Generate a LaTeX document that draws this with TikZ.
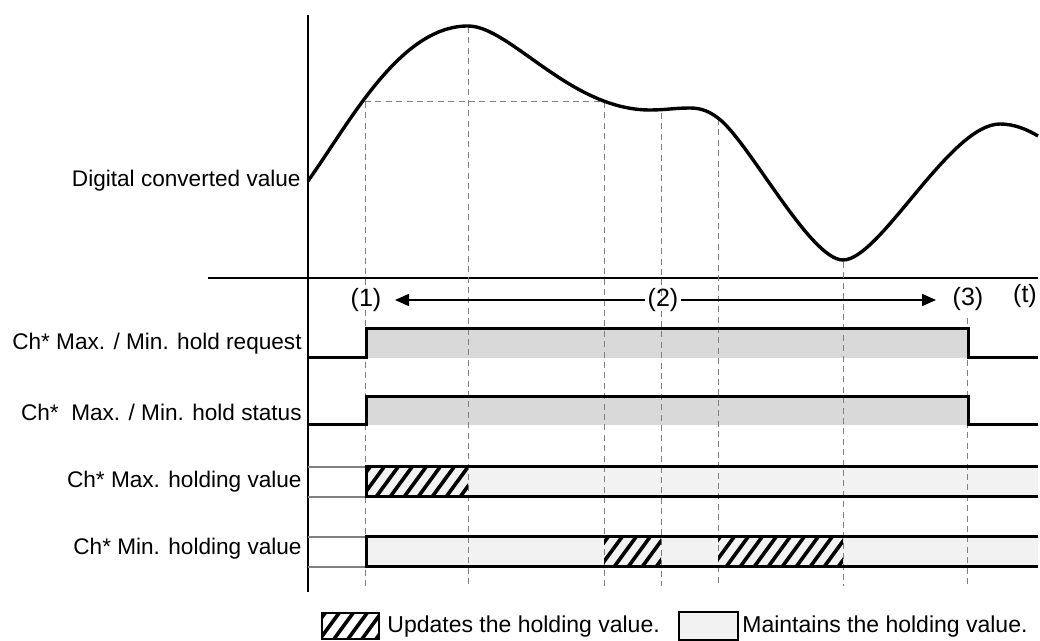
\documentclass[tikz,border=0pt]{standalone}
\usepackage{fontspec}
\setmainfont{Liberation Sans}
\usetikzlibrary{arrows.meta}
\definecolor{reqgray}{HTML}{D9D9D9}
\definecolor{holdgray}{HTML}{F2F2F2}
\definecolor{guidegray}{HTML}{808080}
\tikzset{
  lbl/.style={anchor=east, inner sep=0pt, font=\fontsize{11.3}{13.6}\selectfont},
  mark lbl/.style={inner sep=1pt, font=\fontsize{12.5}{15}\selectfont},
  leg lbl/.style={anchor=west, inner sep=0pt, font=\fontsize{11.5}{13.8}\selectfont},
  axisline/.style={line width=1pt, black},
  wave/.style={line width=1.7pt, black, line join=round},
  sig/.style={line width=1.5pt, black, line join=miter},
  guide/.style={line width=0.5pt, guidegray, dash pattern=on 3pt off 2.2pt},
  thinref/.style={line width=0.6pt, guidegray},
  hatchline/.style={line width=1.8pt, black},
  legbox/.style={line width=0.6pt, black},
  timearrow/.style={line width=0.8pt, black, -{Triangle[length=7pt,width=6pt]}}
}
\newcommand{\hatchfill}[4]{%
  \begin{scope}
    \clip (#1,#2) rectangle (#3,#4);
    \foreach \hx in {-30,-16,...,#3} {
      \draw[hatchline] (\hx,#4) -- ++(22,-30);
    }
  \end{scope}}
\begin{document}
\begin{tikzpicture}[x=0.5pt,y=-0.5pt]
\useasboundingbox (0,0) rectangle (1040,641);

% ---- labels ----
\node[lbl] (lbldcv) at (301,181) {Digital converted value};
\node[lbl] (lblreq) at (302,344) {Ch* Max. / Min. hold request};
\node[lbl] (lblstat) at (302,412) {Ch*\ \ Max. / Min. hold status};
\node[lbl] (lblmax) at (302,482) {Ch* Max. holding value};
\node[lbl] (lblmin) at (302,549) {Ch* Min. holding value};

% ---- axes ----
\draw[axisline] (308,15) -- (308,592);
\draw[axisline] (208,278) -- (1038,278);

% ---- fills ----
\fill[reqgray] (366,329) rectangle (968,358);
\fill[reqgray] (366,397) rectangle (968,425);
\fill[holdgray] (366,467) rectangle (1038,497);
\fill[holdgray] (366,537) rectangle (1038,567);

% ---- guide lines ----
\draw[guide] (365,102) -- (604,102);
\draw[guide] (365,102) -- (365,586);
\draw[guide] (468,27) -- (468,586);
\draw[guide] (604,102) -- (604,586);
\draw[guide] (661,113) -- (661,586);
\draw[guide] (718,119) -- (718,586);
\draw[guide] (843,262) -- (843,586);
\draw[guide] (967,318) -- (967,586);

% thin reference lines in holding rows
\draw[thinref] (308,467) -- (366,467);
\draw[thinref] (308,497) -- (366,497);
\draw[thinref] (308,537) -- (366,537);
\draw[thinref] (308,567) -- (366,567);

% ---- waveform ----
\draw[wave] (308,181) .. controls (350,122) and (400,26) .. (468,26)
  .. controls (510,26) and (570,110) .. (650,110)
  .. controls (665,110) and (675,108) .. (690,108)
  .. controls (702,108) and (710,112) .. (718,118)
  .. controls (748,140) and (810,260) .. (843,260)
  .. controls (880,260) and (950,124) .. (1000,124)
  .. controls (1015,124) and (1028,130) .. (1038,136);

% ---- time marks ----
\node[mark lbl] (n1) at (366,300) {(1)};
\node[mark lbl] (n2) at (663,300) {(2)};
\node[mark lbl] (n3) at (968,299) {(3)};
\node[mark lbl] (nt) at (1025,296) {(t)};
\coordinate (arrL) at (395,300);
\coordinate (arrR) at (936,300);
\draw[timearrow] (n2.west) -- (arrL);
\draw[timearrow] (n2.east) -- (arrR);

% ---- request / status signals ----
\draw[sig] (308,358) -- (366,358) -- (366,329) -- (968,329) -- (968,358) -- (1038,358);
\draw[sig] (308,425) -- (366,425) -- (366,397) -- (968,397) -- (968,425) -- (1038,425);

% ---- holding value bars ----
\hatchfill{366}{467}{468}{497}
\hatchfill{604}{537}{661}{567}
\hatchfill{718}{537}{843}{567}
\draw[sig] (1038,467) -- (366,467) -- (366,497) -- (1038,497);
\draw[sig] (1038,537) -- (366,537) -- (366,567) -- (1038,567);

% ---- legend ----
\hatchfill{322}{613}{379}{639}
\draw[legbox] (322,613) rectangle (379,639);
\node[leg lbl] (leg1txt) at (387,627) {Updates the holding value.};
\draw[legbox, fill=holdgray] (679,612) rectangle (738,640);
\node[leg lbl] (leg2txt) at (742,627) {Maintains the holding value.};
\end{tikzpicture}
\end{document}
